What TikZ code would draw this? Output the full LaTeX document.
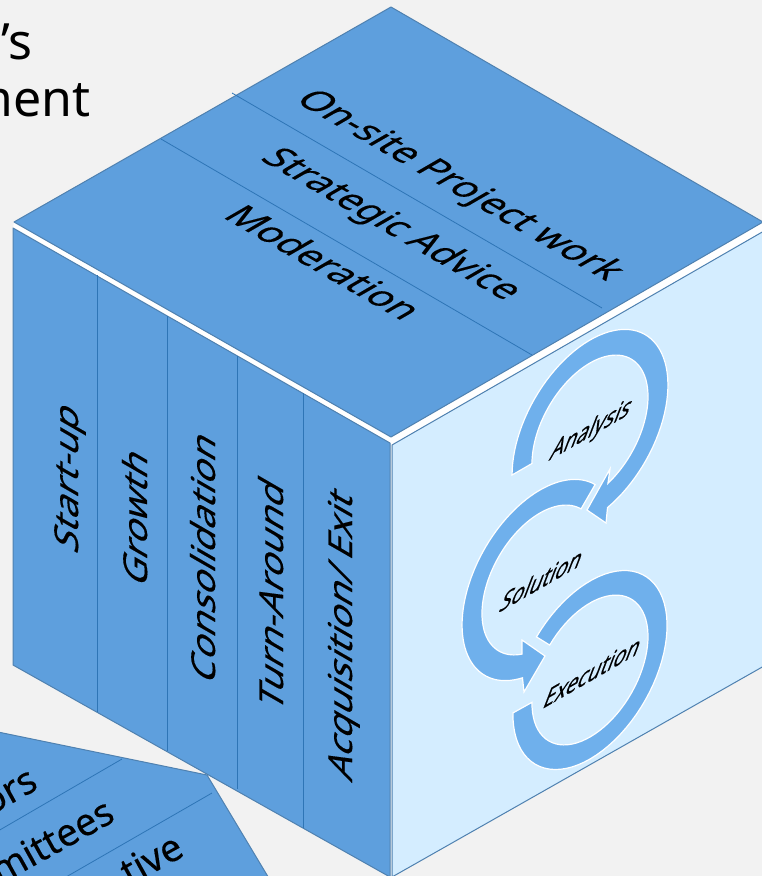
\documentclass[tikz,border=0pt]{standalone}
\usepackage{fontspec}
\setmainfont{Noto Sans}
\newfontfamily\cubefont[FakeBold=0.25]{Noto Sans}
\definecolor{pagegray}{HTML}{F2F2F2}
\definecolor{cubeblue}{HTML}{5E9FDD}
\definecolor{cubepale}{HTML}{D4EDFF}
\definecolor{cubeedge}{HTML}{4F81B0}
\definecolor{cubeline}{HTML}{2E75B6}
\definecolor{bandblue}{HTML}{6FB0EC}
\newcommand{\isoarc}[5]{plot[domain=#4:#5,samples=70] ({#1+#3*0.866*cos(\x)},{#2+#3*(sin(\x)-0.5*cos(\x))})}
\newcommand{\isoarcto}[5]{-- plot[domain=#4:#5,samples=70] ({#1+#3*0.866*cos(\x)},{#2+#3*(sin(\x)-0.5*cos(\x))})}

\begin{document}
\begin{tikzpicture}[x=1pt,y=-1pt,
	facefill/.style={fill=cubeblue,draw=cubeedge,line width=1pt,line join=round},
	divider/.style={draw=cubeline,line width=0.8pt},
	band/.style={fill=bandblue,draw=white,line width=1.2pt,line join=miter},
	toplabel/.style={anchor=base,inner sep=0pt,font=\cubefont\fontsize{38}{42}\selectfont,cm={.866,-.5,.866,.5,(0,0)},transform shape},
	leftlabel/.style={anchor=base,inner sep=0pt,font=\cubefont\fontsize{38}{42}\selectfont,cm={0,1,-.866,.5,(0,0)},transform shape},
	rightlabel/.style={anchor=base,inner sep=0pt,font=\cubefont\fontsize{24}{28}\selectfont,cm={.866,.5,.46,1.2,(0,0)},transform shape},
	lowlabel/.style={anchor=base east,inner sep=0pt,font=\cubefont\fontsize{38}{42}\selectfont,rotate=29},
	titlelabel/.style={anchor=base east,inner sep=0pt,font=\fontsize{50}{54}\selectfont}
]
	\useasboundingbox (0,0) rectangle (762,876);
	\clip (0,0) rectangle (762,876);
	\fill[pagegray] (0,0) rectangle (762,876);
	\node[titlelabel] (titleone) at (33,59) {’s};
	\node[titlelabel] (titletwo) at (91,116) {ment};

	\fill[white] (14,222) -- (391,437) -- (762,222) -- (762,232) -- (391,445) -- (13,228) -- cycle;
	\draw[facefill] (391,7) -- (763,222) -- (391,437) -- (14,222) -- cycle;
	\draw[facefill] (13,228) -- (390,443) -- (390,877) -- (13,665) -- cycle;
	\draw[fill=cubepale,draw=cubeedge,line width=1pt] (392,445) -- (764,231) -- (764,666) -- (392,877) -- cycle;
	\draw[fill=cubeblue,draw=cubeedge,line width=1pt] (-2,732) -- (207,775) -- (270,880) -- (-2,880) -- cycle;

	\draw[divider] (232,93) -- (602,308);
	\draw[divider] (161,139) -- (532,355);
	\foreach \xpos/\ytop/\ybot in {97/275/712,167/316/751,237/356/789,303/393/828}{ \draw[divider] (\xpos,\ytop) -- (\xpos,\ybot);}
	\draw[divider] (122,759) -- (-2,831);
	\draw[divider] (212,793) -- (66,877);

	\foreach \xpos/\ypos/\labeltext[count=\xi] in {450/191/On-site Project work,382/230/Strategic Advice,312/269/Moderation}{ \node[toplabel] (top\xi) at (\xpos,\ypos) {\labeltext};}
	\foreach \xpos/\ypos/\labeltext[count=\xi] in {78/483/Start-up,147/523/Growth,215/563/Consolidation,283/600/Turn-Around,352/640/{Acquisition/ Exit}}{ \node[leftlabel] (left\xi) at (\xpos,\ypos) {\labeltext};}

	\filldraw[band] \isoarc{590}{430}{90}{180}{437} -- (606,523) -- (587,510) -- (610,469) \isoarcto{590}{430}{67}{432}{180} -- cycle;
	\filldraw[band] \isoarc{540}{580}{90}{103}{315} \isoarcto{540}{580}{67}{315}{108} -- (522,640) -- (545,656) -- (524,692) -- cycle;
	\filldraw[band] \isoarc{590}{670}{89}{226}{541} \isoarcto{590}{670}{67}{541}{226} -- cycle;

	\node[rightlabel] (analysis) at (588,438) {Analysis};
	\node[rightlabel] (solution) at (538,590) {Solution};
	\node[rightlabel] (execution) at (589,682) {Execution};

	\node[lowlabel] (lowone) at (40,788) {ors};
	\node[lowlabel] (lowtwo) at (117,820) {mittees};
	\node[lowlabel] (lowthree) at (186,855) {tive};
\end{tikzpicture}
\end{document}
